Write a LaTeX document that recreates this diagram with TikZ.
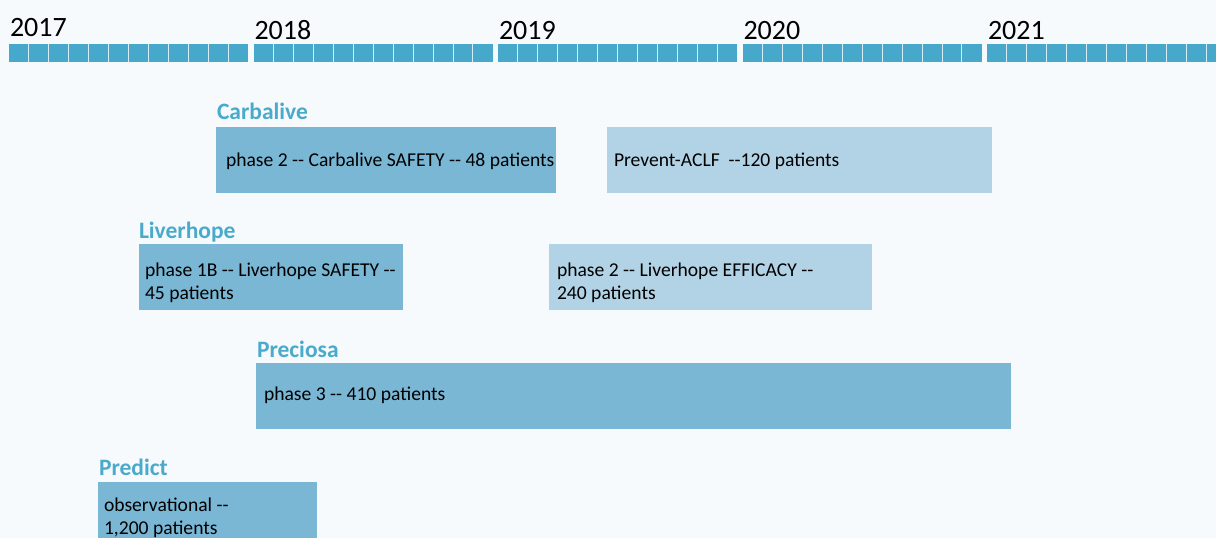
\documentclass[tikz,border=0pt]{standalone}
\usepackage{fontspec}
\setmainfont{Carlito}
\definecolor{pagebg}{HTML}{F6FAFD}
\definecolor{barblue}{HTML}{46A9CB}
\definecolor{darkbox}{HTML}{79B7D5}
\definecolor{lightbox}{HTML}{B2D3E5}
\definecolor{titleblue}{HTML}{4AAACB}
\begin{document}
\begin{tikzpicture}[x=1pt,y=-1pt,
  yearlabel/.style={anchor=base west,inner sep=0,outer sep=0,text=black,
    font=\fontsize{28}{34}\selectfont},
  trialname/.style={anchor=base west,inner sep=0,outer sep=0,text=titleblue,
    font=\fontsize{23.5}{28}\selectfont\bfseries},
  boxline/.style={anchor=base west,inner sep=0,outer sep=0,text=black,
    font=\fontsize{19.6}{23.3}\selectfont},
  trialbox/.style={anchor=north west,inner sep=0,outer sep=0,draw=none,
    minimum height=66pt},
  darkstudy/.style={trialbox,fill=darkbox},
  lightstudy/.style={trialbox,fill=lightbox},
  monthsep/.style={draw=white,opacity=0.8,line width=1pt}]

% page
\fill[pagebg] (0,0) rectangle (1216,538);
\useasboundingbox (0,0) rectangle (1216,538);
\clip (0,0) rectangle (1216,538);

% timeline: one bar of twelve months per year
\foreach \i/\yr/\yb in {0/2017/36,1/2018/39,2/2019/39,3/2020/39,4/2021/39}{
  \pgfmathsetmacro{\xs}{9+244.5*\i}
  \fill[barblue] (\xs,44) rectangle ++(239.4,18);
  \foreach \k in {1,...,11}{
    \draw[monthsep] (\xs+19.95*\k,44) -- ++(0,18);
  }
  \node[yearlabel] (year\yr) at (\xs+1,\yb) {\yr};
}

% Carbalive
\node[trialname] (carbTitle) at (217,119) {Carbalive};
\node[darkstudy,minimum width=340pt] (carbSafety) at (216,127) {};
\node[boxline] (carbSafetyTxt) at (226,166) {phase 2 -{}- Carbalive SAFETY -{}- 48 patients};
\node[lightstudy,minimum width=385pt] (preventBox) at (607,127) {};
\node[boxline] (preventTxt) at (614,166) {Prevent-ACLF \ -{}-120 patients};

% Liverhope
\node[trialname] (liverTitle) at (139,238) {Liverhope};
\node[darkstudy,minimum width=264pt] (liverSafety) at (139,244) {};
\node[boxline] (liverSafetyA) at (145,276) {phase 1B -{}- Liverhope SAFETY -{}-};
\node[boxline] (liverSafetyB) at (145,299.5) {45 patients};
\node[lightstudy,minimum width=323pt] (liverEff) at (549,244) {};
\node[boxline] (liverEffA) at (557,276) {phase 2 -{}- Liverhope EFFICACY -{}-};
\node[boxline] (liverEffB) at (557,299.5) {240 patients};

% Preciosa
\node[trialname] (precTitle) at (257,357) {Preciosa};
\node[darkstudy,minimum width=755pt] (precBox) at (256,363) {};
\node[boxline] (precTxt) at (264,400) {phase 3 -{}- 410 patients};

% Predict
\node[trialname] (predTitle) at (99,475) {Predict};
\node[darkstudy,minimum width=219pt,minimum height=60pt] (predBox) at (98,482) {};
\node[boxline] (predA) at (104,511) {observational -{}-};
\node[boxline] (predB) at (104,534) {1,200 patients};
\end{tikzpicture}
\end{document}
